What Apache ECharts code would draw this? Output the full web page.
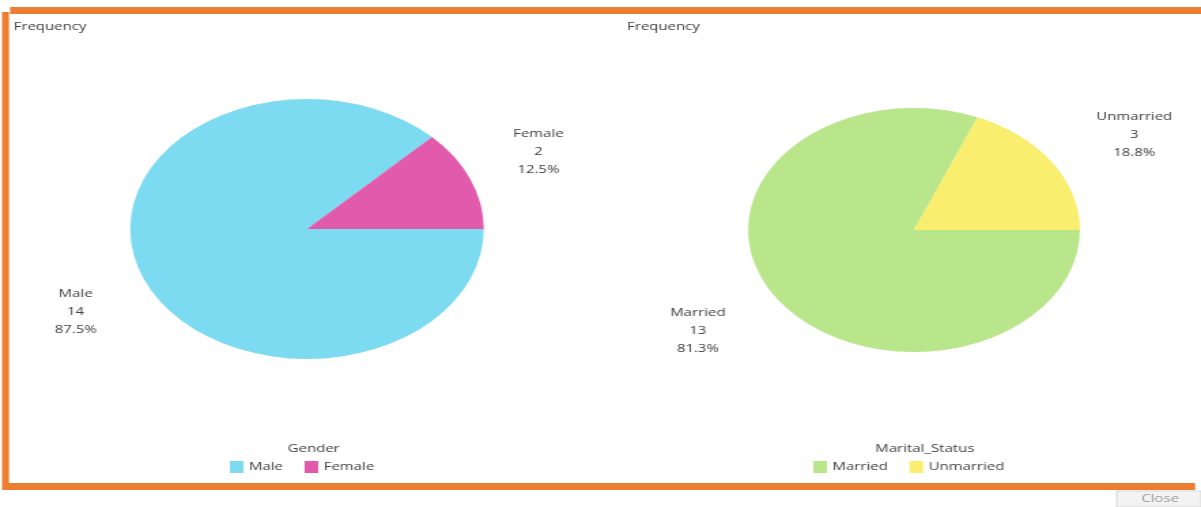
<!DOCTYPE html>
<html>
<head>
<meta charset="utf-8">
<script src="https://cdn.jsdelivr.net/npm/echarts@6/dist/echarts.min.js"></script>
<style>
  html, body { margin: 0; padding: 0; background: #fff; overflow: hidden; }
  /* the report view is shown horizontally stretched */
  #chart { width: 883px; height: 507px; transform: scaleX(1.3601); transform-origin: 0 0; }
</style>
</head>
<body>
<div id="chart"></div>
<script>
// Frequency tables
const genderCategories = ['Male', 'Female'];
const genderCounts = [14, 2];
const genderColors = ['#7ddbf1', '#e25aab'];

const maritalCategories = ['Married', 'Unmarried'];
const maritalCounts = [13, 3];
const maritalColors = ['#bae68b', '#f9ee6e'];

const FONT = '"Open Sans", "Noto Sans", sans-serif';
const TEXT = '#404040';
const ORANGE = '#ed7d31';

// panel layout (chart pixels before the horizontal stretch)
// labelDx: sideways push for labels on the [left, right] side of a pie
const panels = [
  { name: 'Gender', cats: genderCategories, counts: genderCounts, colors: genderColors,
    cx: 225.7, cy: 229, r: 130, labelDx: [50, 50], labelDy: 30 },
  { name: 'Marital_Status', cats: maritalCategories, counts: maritalCounts, colors: maritalColors,
    cx: 672, cy: 230, r: 122, labelDx: [57.5, 60.5], labelDy: 30 }
];

// label anchor: just outside the slice's mid point, pushed sideways
function labelPos(p, idx) {
  const total = p.counts.reduce((a, b) => a + b, 0);
  let before = 0;
  for (let i = 0; i < idx; i++) before += p.counts[i];
  const mid = (before + p.counts[idx] / 2) / total * Math.PI * 2;
  const c = Math.cos(mid), s = Math.sin(mid);
  const dx = c < 0 ? -p.labelDx[0] : p.labelDx[1];
  return {
    x: p.cx + c * p.r + dx,
    y: p.cy + s * p.r + Math.sign(s) * p.labelDy + 3
  };
}

const series = panels.map((p, si) => ({
  type: 'pie',
  name: p.name,
  center: [p.cx, p.cy],
  radius: [0, p.r],
  startAngle: 0,
  clockwise: true,
  silent: true,
  avoidLabelOverlap: false,
  color: p.colors,
  itemStyle: { borderWidth: 0 },
  label: {
    show: true,
    position: 'outside',
    color: TEXT,
    fontSize: 11,
    fontFamily: FONT,
    lineHeight: 18,
    align: 'center',
    formatter: prm => prm.name + '\n' + prm.value + '\n' + prm.percent.toFixed(1) + '%'
  },
  labelLine: { show: false },
  labelLayout: prm => {
    const pos = labelPos(p, prm.dataIndex);
    return { x: pos.x, y: pos.y, align: 'center', verticalAlign: 'middle' };
  },
  data: p.cats.map((c, i) => ({ name: c, value: p.counts[i] }))
}));

const chart = echarts.init(document.getElementById('chart'), null, { renderer: 'canvas' });
const titleStyle = { fontSize: 11, fontWeight: 'normal', color: TEXT, fontFamily: FONT };
const legendBase = {
  top: 456,
  itemWidth: 10, itemHeight: 12, itemGap: 16,
  icon: 'rect',
  selectedMode: false,
  textStyle: { fontSize: 11, color: TEXT, fontFamily: FONT, padding: [0, 0, 0, -1] }
};

chart.setOption({
  backgroundColor: '#ffffff',
  animation: false,
  title: [
    { text: 'Frequency', left: 5, top: 16, textStyle: titleStyle },
    { text: 'Frequency', left: 456, top: 16, textStyle: titleStyle },
    { text: 'Gender', left: panels[0].cx, top: 438, textAlign: 'center', textStyle: titleStyle },
    { text: 'Marital_Status', left: 675, top: 438, textAlign: 'center', textStyle: titleStyle }
  ],
  legend: [
    Object.assign({ data: genderCategories, left: 164 }, legendBase),
    Object.assign({ data: maritalCategories, left: 593 }, legendBase)
  ],
  graphic: [
    // orange frame
    { type: 'rect', shape: { x: 7.4, y: 7, width: 876, height: 7 }, style: { fill: ORANGE }, silent: true },
    { type: 'rect', shape: { x: 1.5, y: 12, width: 5.1, height: 478 }, style: { fill: ORANGE }, silent: true },
    { type: 'rect', shape: { x: 3.7, y: 483, width: 875, height: 7 }, style: { fill: ORANGE }, silent: true },
    // close button
    { type: 'rect', shape: { x: 821, y: 491, width: 62, height: 16 }, style: { fill: '#f3f3f3', stroke: '#d6d6d6', lineWidth: 1 }, silent: true },
    { type: 'text', x: 853, y: 499, style: { text: 'Close', align: 'center', verticalAlign: 'middle', fill: '#9a9a9a', font: '11px ' + FONT }, silent: true }
  ],
  series: series
});
</script>
</body>
</html>
